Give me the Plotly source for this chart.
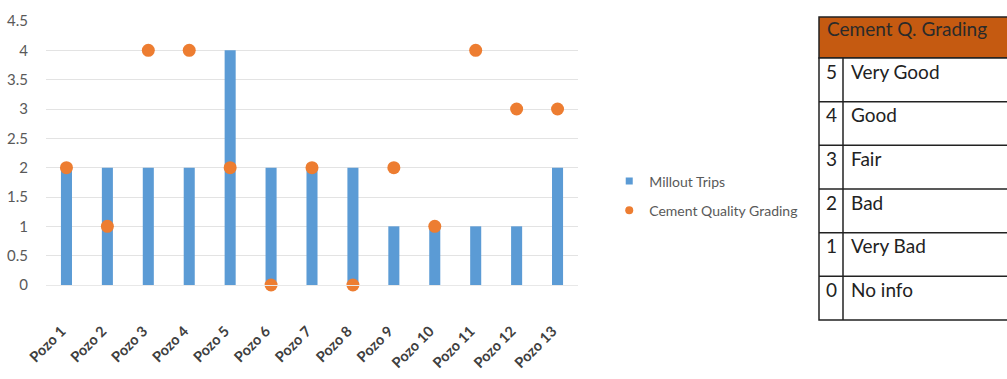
import plotly.graph_objects as go

categories = [f"Pozo {i}" for i in range(1, 14)]
millout_trips = [2, 2, 2, 2, 4, 2, 2, 2, 1, 1, 1, 1, 2]
cement_grading = [2, 1, 4, 4, 2, 0, 2, 0, 2, 1, 4, 3, 3]
y_ticks = [0, 0.5, 1, 1.5, 2, 2.5, 3, 3.5, 4, 4.5]
table_scores = [5, 4, 3, 2, 1, 0]
table_labels = ["Very Good", "Good", "Fair", "Bad", "Very Bad", "No info"]
table_title = "Cement Q. Grading"

BLUE = "#5b9bd5"
ORANGE = "#ed7d31"
HEADER = "#c55a11"
W, H = 1007, 379
ML, MR, MT, MB = 46, 429, 21, 94
FONT = "Lato, Open Sans, sans-serif"

fig = go.Figure()
fig.add_trace(go.Bar(x=categories, y=millout_trips, name="Millout Trips",
                     marker=dict(color=BLUE, line=dict(width=0)), width=0.27,
                     showlegend=False))
fig.add_trace(go.Scatter(x=categories, y=cement_grading, name="Cement Quality Grading",
                         mode="markers", marker=dict(color=ORANGE, size=13),
                         cliponaxis=False, showlegend=False))
# legend entries with small symbols like the reference
fig.add_trace(go.Scatter(x=[None], y=[None], name="Millout Trips", mode="markers",
                         marker=dict(color=BLUE, symbol="square", size=7),
                         legendgroup="a"))
fig.add_trace(go.Scatter(x=[None], y=[None], name="Cement Quality Grading", mode="markers",
                         marker=dict(color=ORANGE, symbol="circle", size=8),
                         legendgroup="b"))

fig.update_layout(
    width=W, height=H,
    margin=dict(l=ML, r=MR, t=MT, b=MB),
    plot_bgcolor="white", paper_bgcolor="white",
    font=dict(family=FONT, color="#595959"),
    showlegend=True,
    legend=dict(xref="container", yref="container", x=0.605, y=0.483,
                xanchor="left", yanchor="middle",
                font=dict(size=14, color="#595959", family=FONT),
                traceorder="grouped", tracegroupgap=8, itemwidth=30),
)
fig.update_yaxes(range=[0, 4.5], tickvals=y_ticks,
                 ticktext=[("%g" % v) for v in y_ticks],
                 showgrid=True, gridcolor="#e3e3e3", gridwidth=1,
                 zeroline=False, showline=False, automargin=False,
                 tickfont=dict(size=15, color="#595959", family=FONT),
                 ticks="outside", ticklen=14, tickcolor="rgba(0,0,0,0)")
fig.update_xaxes(range=[-0.5, 12.5], automargin=False,
                 tickangle=-45,
                 tickfont=dict(size=14.5, color="#404040", family=FONT, weight="bold"),
                 ticks="outside", ticklen=31, tickcolor="rgba(0,0,0,0)",
                 ticklabelshift=-5,
                 showline=True, linecolor="#e8e8e8", showgrid=False)

def dom_x(xp):
    return (xp - ML) / (W - ML - MR)

def dom_y(yp):
    return (H - MB - yp) / (H - MT - MB)

x0, x1, xdiv = 819, 1012, 843
y_top, y_head = 17, 58
row_h = (320 - 58) / 6
y_bottom = y_head + 6 * row_h
LC = "#222222"

fig.add_shape(type="rect", xref="x domain", yref="y domain",
              x0=dom_x(x0), x1=dom_x(x1), y0=dom_y(y_head), y1=dom_y(y_top),
              fillcolor=HEADER, line=dict(color=LC, width=1.5))
fig.add_shape(type="rect", xref="x domain", yref="y domain",
              x0=dom_x(x0), x1=dom_x(x1), y0=dom_y(y_bottom), y1=dom_y(y_head),
              fillcolor="white", line=dict(color=LC, width=1.5))
for i in range(1, 6):
    yy = y_head + i * row_h
    fig.add_shape(type="line", xref="x domain", yref="y domain",
                  x0=dom_x(x0), x1=dom_x(x1), y0=dom_y(yy), y1=dom_y(yy),
                  line=dict(color=LC, width=1.5))
fig.add_shape(type="line", xref="x domain", yref="y domain",
              x0=dom_x(xdiv), x1=dom_x(xdiv), y0=dom_y(y_bottom), y1=dom_y(y_head),
              line=dict(color=LC, width=1.5))

fig.add_annotation(xref="x domain", yref="y domain", x=dom_x(825), y=dom_y(29),
                   text=table_title, showarrow=False, xanchor="left", yanchor="middle",
                   font=dict(size=19, color="#2a2a2a", family=FONT))
for i, (s, lab) in enumerate(zip(table_scores, table_labels)):
    yc = y_head + i * row_h + 13
    fig.add_annotation(xref="x domain", yref="y domain", x=dom_x(831), y=dom_y(yc),
                       text=str(s), showarrow=False, xanchor="center", yanchor="middle",
                       font=dict(size=19, color="#222222", family=FONT))
    fig.add_annotation(xref="x domain", yref="y domain", x=dom_x(849), y=dom_y(yc),
                       text=lab, showarrow=False, xanchor="left", yanchor="middle",
                       font=dict(size=19, color="#222222", family=FONT))

fig.write_html("out.html")
